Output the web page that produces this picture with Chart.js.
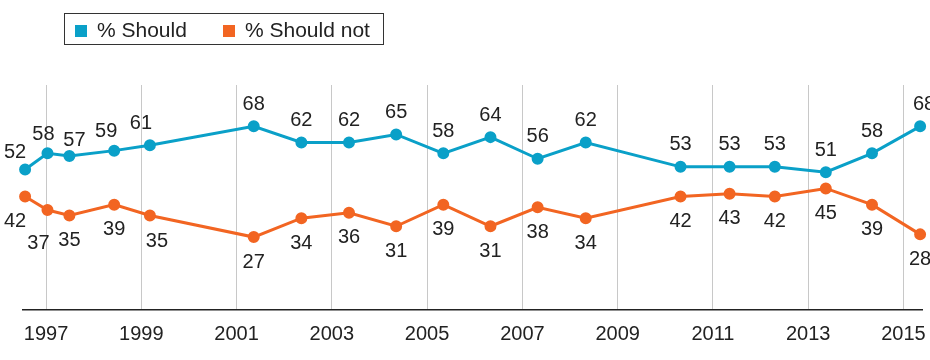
<!DOCTYPE html>
<html lang="en">
<head>
    <meta charset="UTF-8">
    <title>Should / Should not</title>
    <script src="https://cdn.jsdelivr.net/npm/chart.js"></script>
    <style>
        body { margin: 0; background: #fff; font-family: "Liberation Sans", Arial, sans-serif; }
        #wrap { position: relative; width: 930px; height: 360px; }
        #legend {
            position: absolute; left: 64px; top: 13px; width: 318px; height: 30px;
            border: 1px solid #333; box-sizing: content-box;
            font-size: 21px; color: #222; line-height: 31px;
        }
        #legend span.sw { display: inline-block; width: 12px; height: 12px; vertical-align: 0px; margin-right: 10px; }
        #legend .item { position: absolute; top: 0; }
    </style>
</head>
<body>
    <div id="wrap">
        <canvas id="chart" width="930" height="360"></canvas>
        <div id="legend">
            <div class="item" style="left:10px"><span class="sw" style="background:#0aa0c8"></span>% Should</div>
            <div class="item" style="left:158px"><span class="sw" style="background:#f26522"></span>% Should not</div>
        </div>
    </div>

    <script>
        // survey dates as decimal years
        const dates = [1996.56, 1997.03, 1997.49, 1998.43, 1999.18, 2001.36, 2002.36, 2003.36, 2004.35,
                       2005.34, 2006.33, 2007.32, 2008.33, 2010.32, 2011.35, 2012.30, 2013.37, 2014.34, 2015.35];
        const should    = [52, 58, 57, 59, 61, 68, 62, 62, 65, 58, 64, 56, 62, 53, 53, 53, 51, 58, 68];
        const shouldNot = [42, 37, 35, 39, 35, 27, 34, 36, 31, 39, 31, 38, 34, 42, 43, 42, 45, 39, 28];
        const tickYears = [1997, 1999, 2001, 2003, 2005, 2007, 2009, 2011, 2013, 2015];

        const BLUE = '#0aa0c8';
        const ORANGE = '#f26522';
        const FONT = '"Liberation Sans", Arial, sans-serif';

        const pts = arr => arr.map((v, i) => ({ x: dates[i], y: v }));

        // small nudges for the crowded labels at the start
        const nudge = {
            '0-0': [-10, 5], '0-1': [-4, 3], '0-2': [5, 6], '0-3': [-8, 3], '0-4': [-9, 0], '0-18': [4, 0],
            '1-0': [-10, 0], '1-1': [-9, 8], '1-4': [7, 1]
        };

        // value labels: blue above, orange below
        const valueLabels = {
            id: 'valueLabels',
            afterDatasetsDraw(chart) {
                const ctx = chart.ctx;
                ctx.save();
                ctx.font = '20px ' + FONT;
                ctx.fillStyle = '#222';
                ctx.textAlign = 'center';
                ctx.textBaseline = 'middle';
                chart.data.datasets.forEach((ds, di) => {
                    chart.getDatasetMeta(di).data.forEach((p, i) => {
                        const [dx, dy] = nudge[di + '-' + i] || [0, 0];
                        const y = di === 0 ? p.y - 22 : p.y + 25;
                        ctx.fillText(ds.data[i].y, p.x + dx, y + dy);
                    });
                });
                ctx.restore();
            }
        };

        new Chart(document.getElementById('chart'), {
            type: 'line',
            data: {
                datasets: [
                    { label: '% Should', data: pts(should), borderColor: BLUE, backgroundColor: BLUE,
                      borderWidth: 3, pointRadius: 4.5, pointHoverRadius: 4.5, tension: 0, clip: false },
                    { label: '% Should not', data: pts(shouldNot), borderColor: ORANGE, backgroundColor: ORANGE,
                      borderWidth: 3, pointRadius: 4.5, pointHoverRadius: 4.5, tension: 0, clip: false }
                ]
            },
            options: {
                responsive: false,
                animation: false,
                layout: { padding: { left: 23, right: 0, top: 85, bottom: 2 } },
                plugins: { legend: { display: false }, tooltip: { enabled: false } },
                scales: {
                    x: {
                        type: 'linear',
                        min: 1996.516,
                        max: 2015.40,
                        afterBuildTicks: axis => { axis.ticks = tickYears.map(v => ({ value: v })); },
                        afterFit: axis => { axis.paddingLeft = 0; axis.paddingRight = 1; },
                        ticks: {
                            callback: v => String(v),
                            font: { size: 20, family: FONT },
                            color: '#222',
                            padding: 12,
                            maxRotation: 0,
                            autoSkip: false
                        },
                        grid: { color: '#c8c8c8', lineWidth: 1, drawTicks: false },
                        border: { display: true, color: '#222', width: 1.5 }
                    },
                    y: {
                        display: false,
                        min: 0,
                        max: 83.3
                    }
                }
            },
            plugins: [valueLabels]
        });
    </script>
</body>
</html>
